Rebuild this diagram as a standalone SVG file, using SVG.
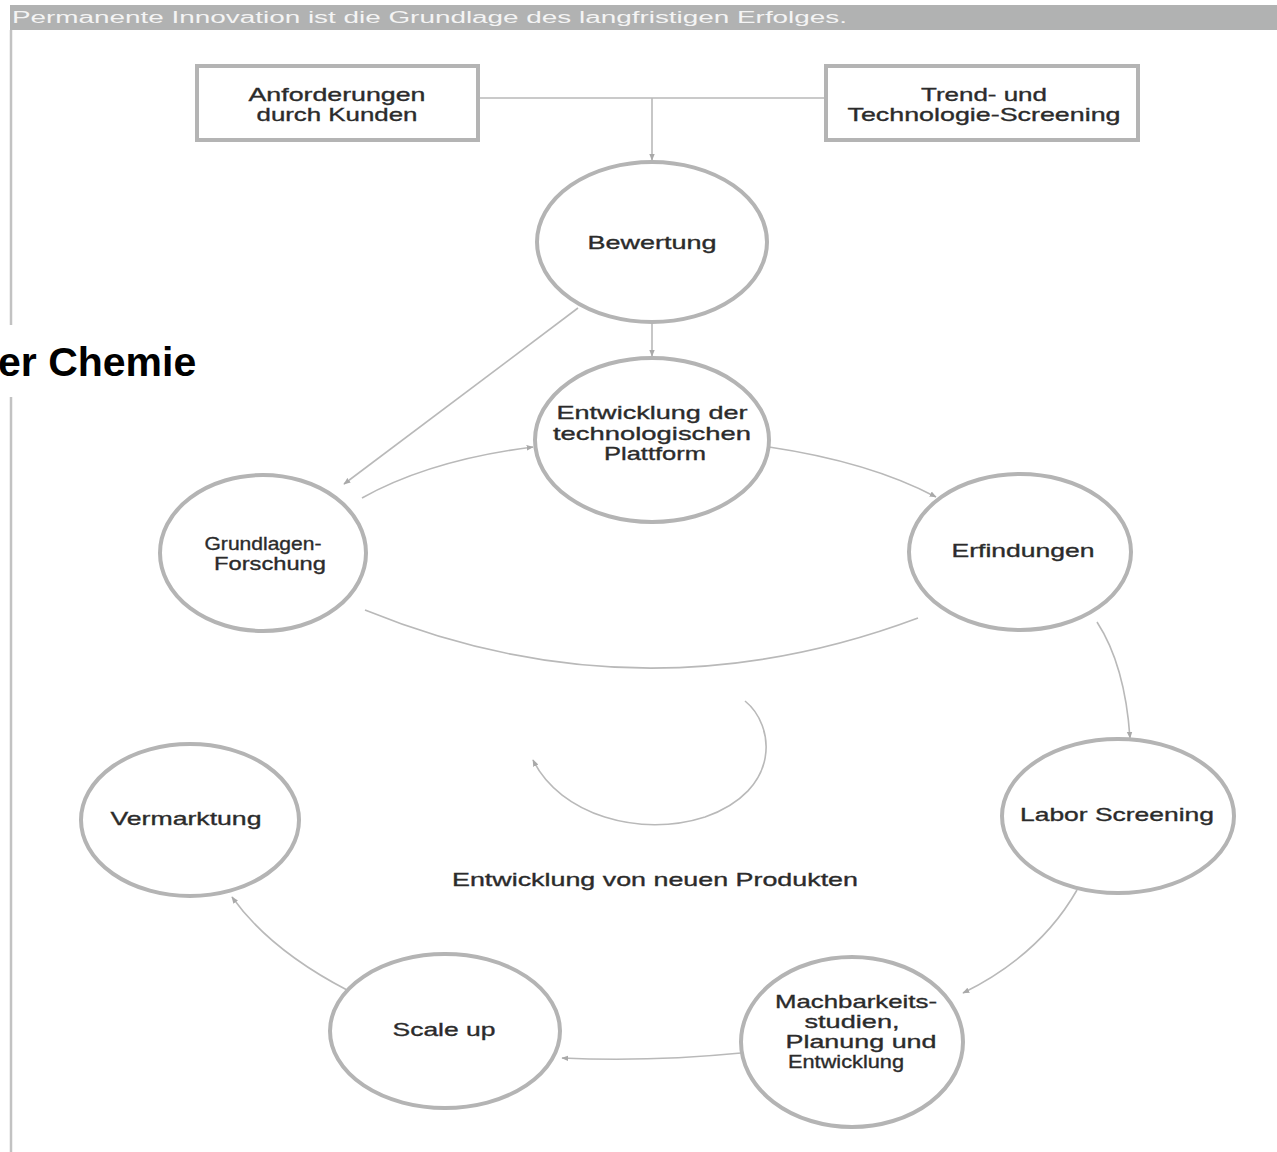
<svg xmlns="http://www.w3.org/2000/svg" width="1277" height="1152" viewBox="0 0 1277 1152">
  <defs>
    <style>
      .node { fill: #ffffff; stroke: #b4b4b4; stroke-width: 4; }
      .lbl { font-family: "Liberation Sans", Arial, sans-serif; font-size: 19px; fill: #2b2b2b; stroke: #2b2b2b; stroke-width: 0.35; text-anchor: middle; }
      .edge { fill: none; stroke: #b9b9b9; stroke-width: 1.6; }
      .frame { stroke: #c2c2c2; stroke-width: 2.5; }
    </style>
    <marker id="arrow" viewBox="0 0 10 10" refX="9" refY="5" markerWidth="7" markerHeight="7" markerUnits="userSpaceOnUse" orient="auto">
      <path d="M0,1 L10,5 L0,9 Z" fill="#a9a9a9"/>
    </marker>
  </defs>

  <rect x="0" y="0" width="1277" height="1152" fill="#ffffff"/>

  <!-- page frame and title bar -->
  <g id="frame">
    <rect x="10" y="5" width="1267" height="25" fill="#b1b2b2"/>
    <line class="frame" x1="11" y1="30" x2="11" y2="325"/>
    <line class="frame" x1="11" y1="397" x2="11" y2="1152"/>
    <text x="12" y="23" font-family="Liberation Sans, Arial, sans-serif" font-size="16" fill="#f4f4f4" textLength="835" lengthAdjust="spacingAndGlyphs">Permanente Innovation ist die Grundlage des langfristigen Erfolges.</text>
  </g>

  <g id="heading">
    <text x="-2" y="376" font-family="Liberation Sans, Arial, sans-serif" font-size="41" font-weight="bold" fill="#000000">er Chemie</text>
  </g>

  <!-- connectors -->
  <g id="connectors">
    <line class="edge" x1="478" y1="98" x2="826" y2="98"/>
    <line class="edge" x1="652" y1="98" x2="652" y2="160" marker-end="url(#arrow)"/>
    <line class="edge" x1="652" y1="323" x2="652" y2="356" marker-end="url(#arrow)"/>
    <line class="edge" x1="578" y1="308" x2="344" y2="484" marker-end="url(#arrow)"/>
    <path class="edge" d="M362,498 Q430,460 533,447" marker-end="url(#arrow)"/>
    <path class="edge" d="M769,447 Q870,462 936,497" marker-end="url(#arrow)"/>
    <path class="edge" d="M918,618 Q640,722 365,610"/>
    <path class="edge" d="M1097,622 Q1125,665 1130,738" marker-end="url(#arrow)"/>
    <path class="edge" d="M1077,890 Q1040,955 963,993" marker-end="url(#arrow)"/>
    <path class="edge" d="M741,1053 Q650,1062 562,1058" marker-end="url(#arrow)"/>
    <path class="edge" d="M347,990 Q270,950 232,897" marker-end="url(#arrow)"/>
    <path class="edge" d="M745,701 C775,725 782,790 705,817 C640,838 560,815 533,760" marker-end="url(#arrow)"/>
  </g>

  <g id="node-kunden">
    <rect class="node" x="197" y="66" width="281" height="74"/>
    <text class="lbl" x="337" y="101" textLength="177" lengthAdjust="spacingAndGlyphs">Anforderungen</text>
    <text class="lbl" x="337" y="121" textLength="161" lengthAdjust="spacingAndGlyphs">durch Kunden</text>
  </g>

  <g id="node-trend">
    <rect class="node" x="826" y="66" width="312" height="74"/>
    <text class="lbl" x="984" y="101" textLength="126" lengthAdjust="spacingAndGlyphs">Trend- und</text>
    <text class="lbl" x="984" y="121" textLength="273" lengthAdjust="spacingAndGlyphs">Technologie-Screening</text>
  </g>

  <g id="node-bewertung">
    <ellipse class="node" cx="652" cy="242" rx="115" ry="80"/>
    <text class="lbl" x="652" y="249" textLength="129" lengthAdjust="spacingAndGlyphs">Bewertung</text>
  </g>

  <g id="node-plattform">
    <ellipse class="node" cx="652" cy="440" rx="117" ry="82"/>
    <text class="lbl" x="652" y="419" textLength="191" lengthAdjust="spacingAndGlyphs">Entwicklung der</text>
    <text class="lbl" x="652" y="440" textLength="198" lengthAdjust="spacingAndGlyphs">technologischen</text>
    <text class="lbl" x="655" y="460" textLength="102" lengthAdjust="spacingAndGlyphs">Plattform</text>
  </g>

  <g id="node-grundlagen">
    <ellipse class="node" cx="263" cy="553" rx="103" ry="78"/>
    <text class="lbl" x="263" y="550" textLength="117" lengthAdjust="spacingAndGlyphs">Grundlagen-</text>
    <text class="lbl" x="270" y="570" textLength="112" lengthAdjust="spacingAndGlyphs">Forschung</text>
  </g>

  <g id="node-erfindungen">
    <ellipse class="node" cx="1020" cy="552" rx="111" ry="78"/>
    <text class="lbl" x="1023" y="557" textLength="143" lengthAdjust="spacingAndGlyphs">Erfindungen</text>
  </g>

  <g id="node-labor">
    <ellipse class="node" cx="1118" cy="816" rx="116" ry="77"/>
    <text class="lbl" x="1117" y="821" textLength="194" lengthAdjust="spacingAndGlyphs">Labor Screening</text>
  </g>

  <g id="node-machbarkeit">
    <ellipse class="node" cx="852" cy="1042" rx="111" ry="85"/>
    <text class="lbl" x="856" y="1008" textLength="162" lengthAdjust="spacingAndGlyphs">Machbarkeits-</text>
    <text class="lbl" x="852" y="1028" textLength="95" lengthAdjust="spacingAndGlyphs">studien,</text>
    <text class="lbl" x="861" y="1048" textLength="151" lengthAdjust="spacingAndGlyphs">Planung und</text>
    <text class="lbl" x="846" y="1068" textLength="116" lengthAdjust="spacingAndGlyphs">Entwicklung</text>
  </g>

  <g id="node-scaleup">
    <ellipse class="node" cx="445" cy="1031" rx="115" ry="77"/>
    <text class="lbl" x="444" y="1036" textLength="103" lengthAdjust="spacingAndGlyphs">Scale up</text>
  </g>

  <g id="node-vermarktung">
    <ellipse class="node" cx="190" cy="820" rx="109" ry="76"/>
    <text class="lbl" x="186" y="825" textLength="151" lengthAdjust="spacingAndGlyphs">Vermarktung</text>
  </g>

  <g id="cycle-label">
    <text class="lbl" x="655" y="886" textLength="406" lengthAdjust="spacingAndGlyphs">Entwicklung von neuen Produkten</text>
  </g>
</svg>
